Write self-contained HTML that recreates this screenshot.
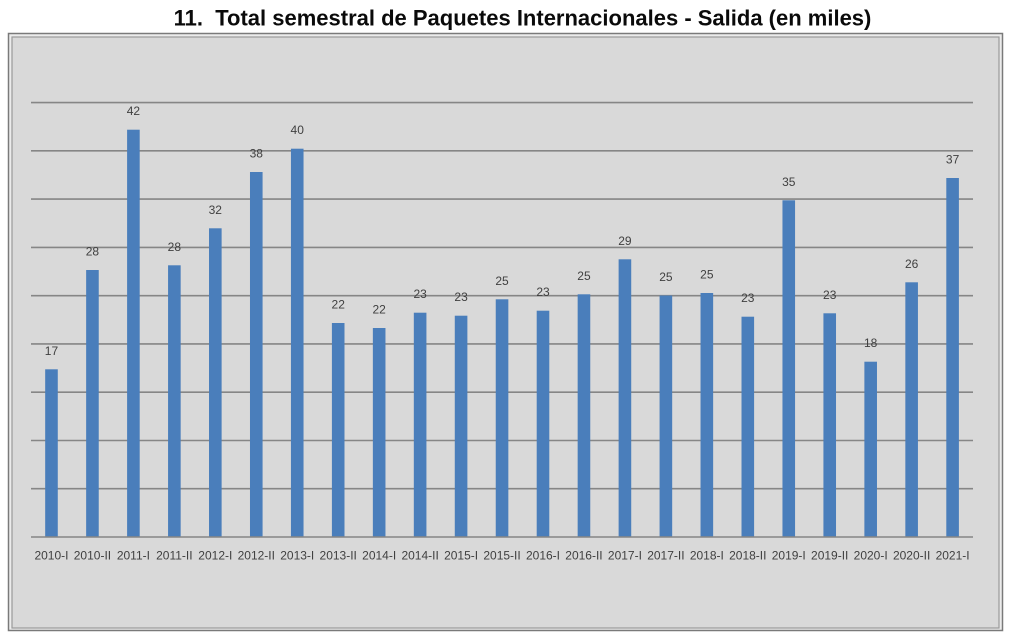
<!DOCTYPE html>
<html>
<head>
<meta charset="utf-8">
<style>
  html, body { margin: 0; padding: 0; background: #ffffff; }
  body { width: 1010px; height: 638px; overflow: hidden; }
  svg { display: block; }
  text { font-family: "Liberation Sans", Arial, sans-serif; }
</style>
</head>
<body>
<svg width="1010" height="638" viewBox="0 0 1010 638" xmlns="http://www.w3.org/2000/svg">
  <rect x="0" y="0" width="1010" height="638" fill="#ffffff"/>
  <!-- Title -->
  <text x="522.5" y="25.5" text-anchor="middle" font-size="22" font-weight="bold" fill="#0a0a0a">11.&#160; Total semestral de Paquetes Internacionales - Salida (en miles)</text>

  <!-- Chart frame -->
  <rect x="8.5" y="33.5" width="994" height="597" fill="#ececec" stroke="#7a7a7a" stroke-width="1.5"/>
  <rect x="12" y="37" width="987" height="591" fill="#d9d9d9" stroke="#9a9a9a" stroke-width="1.2"/>

  <!-- Gridlines -->
  <g stroke="#868686" stroke-width="1.6">
    <line x1="31" y1="102.6" x2="973" y2="102.6"/>
    <line x1="31" y1="150.8" x2="973" y2="150.8"/>
    <line x1="31" y1="199.1" x2="973" y2="199.1"/>
    <line x1="31" y1="247.4" x2="973" y2="247.4"/>
    <line x1="31" y1="295.7" x2="973" y2="295.7"/>
    <line x1="31" y1="343.9" x2="973" y2="343.9"/>
    <line x1="31" y1="392.2" x2="973" y2="392.2"/>
    <line x1="31" y1="440.5" x2="973" y2="440.5"/>
    <line x1="31" y1="488.7" x2="973" y2="488.7"/>
  </g>

  <!-- Bars -->
  <g fill="#4a7ebb">
    <rect x="45.18" y="369.3" width="12.6" height="167.7"/>
    <rect x="86.14" y="270" width="12.6" height="267"/>
    <rect x="127.10" y="129.7" width="12.6" height="407.3"/>
    <rect x="168.06" y="265.3" width="12.6" height="271.7"/>
    <rect x="209.02" y="228.3" width="12.6" height="308.7"/>
    <rect x="249.98" y="172" width="12.6" height="365"/>
    <rect x="290.94" y="148.7" width="12.6" height="388.3"/>
    <rect x="331.90" y="323" width="12.6" height="214"/>
    <rect x="372.86" y="328" width="12.6" height="209"/>
    <rect x="413.82" y="312.7" width="12.6" height="224.3"/>
    <rect x="454.78" y="315.7" width="12.6" height="221.3"/>
    <rect x="495.74" y="299.3" width="12.6" height="237.7"/>
    <rect x="536.70" y="310.7" width="12.6" height="226.3"/>
    <rect x="577.66" y="294.3" width="12.6" height="242.7"/>
    <rect x="618.62" y="259.3" width="12.6" height="277.7"/>
    <rect x="659.58" y="295.5" width="12.6" height="241.5"/>
    <rect x="700.54" y="293" width="12.6" height="244"/>
    <rect x="741.50" y="316.7" width="12.6" height="220.3"/>
    <rect x="782.46" y="200.3" width="12.6" height="336.7"/>
    <rect x="823.42" y="313.3" width="12.6" height="223.7"/>
    <rect x="864.38" y="361.7" width="12.6" height="175.3"/>
    <rect x="905.34" y="282.3" width="12.6" height="254.7"/>
    <rect x="946.30" y="178" width="12.6" height="359"/>
  </g>

  <!-- Baseline -->
  <line x1="31" y1="537" x2="973" y2="537" stroke="#868686" stroke-width="1.6"/>

  <!-- Data labels -->
  <g font-size="12" fill="#404040" text-anchor="middle">
    <text x="51.48" y="354.8">17</text>
    <text x="92.44" y="255.5">28</text>
    <text x="133.40" y="115.2">42</text>
    <text x="174.36" y="250.8">28</text>
    <text x="215.32" y="213.8">32</text>
    <text x="256.28" y="157.5">38</text>
    <text x="297.24" y="134.2">40</text>
    <text x="338.20" y="308.5">22</text>
    <text x="379.16" y="313.5">22</text>
    <text x="420.12" y="298.2">23</text>
    <text x="461.08" y="301.2">23</text>
    <text x="502.04" y="284.8">25</text>
    <text x="543.00" y="296.2">23</text>
    <text x="583.96" y="279.8">25</text>
    <text x="624.92" y="244.8">29</text>
    <text x="665.88" y="281.0">25</text>
    <text x="706.84" y="278.5">25</text>
    <text x="747.80" y="302.2">23</text>
    <text x="788.76" y="185.8">35</text>
    <text x="829.72" y="298.8">23</text>
    <text x="870.68" y="347.2">18</text>
    <text x="911.64" y="267.8">26</text>
    <text x="952.60" y="163.5">37</text>
  </g>

  <!-- Category labels -->
  <g font-size="12" fill="#404040" text-anchor="middle">
    <text x="51.48" y="559.3">2010-I</text>
    <text x="92.44" y="559.3">2010-II</text>
    <text x="133.40" y="559.3">2011-I</text>
    <text x="174.36" y="559.3">2011-II</text>
    <text x="215.32" y="559.3">2012-I</text>
    <text x="256.28" y="559.3">2012-II</text>
    <text x="297.24" y="559.3">2013-I</text>
    <text x="338.20" y="559.3">2013-II</text>
    <text x="379.16" y="559.3">2014-I</text>
    <text x="420.12" y="559.3">2014-II</text>
    <text x="461.08" y="559.3">2015-I</text>
    <text x="502.04" y="559.3">2015-II</text>
    <text x="543.00" y="559.3">2016-I</text>
    <text x="583.96" y="559.3">2016-II</text>
    <text x="624.92" y="559.3">2017-I</text>
    <text x="665.88" y="559.3">2017-II</text>
    <text x="706.84" y="559.3">2018-I</text>
    <text x="747.80" y="559.3">2018-II</text>
    <text x="788.76" y="559.3">2019-I</text>
    <text x="829.72" y="559.3">2019-II</text>
    <text x="870.68" y="559.3">2020-I</text>
    <text x="911.64" y="559.3">2020-II</text>
    <text x="952.60" y="559.3">2021-I</text>
  </g>
</svg>
</body>
</html>
